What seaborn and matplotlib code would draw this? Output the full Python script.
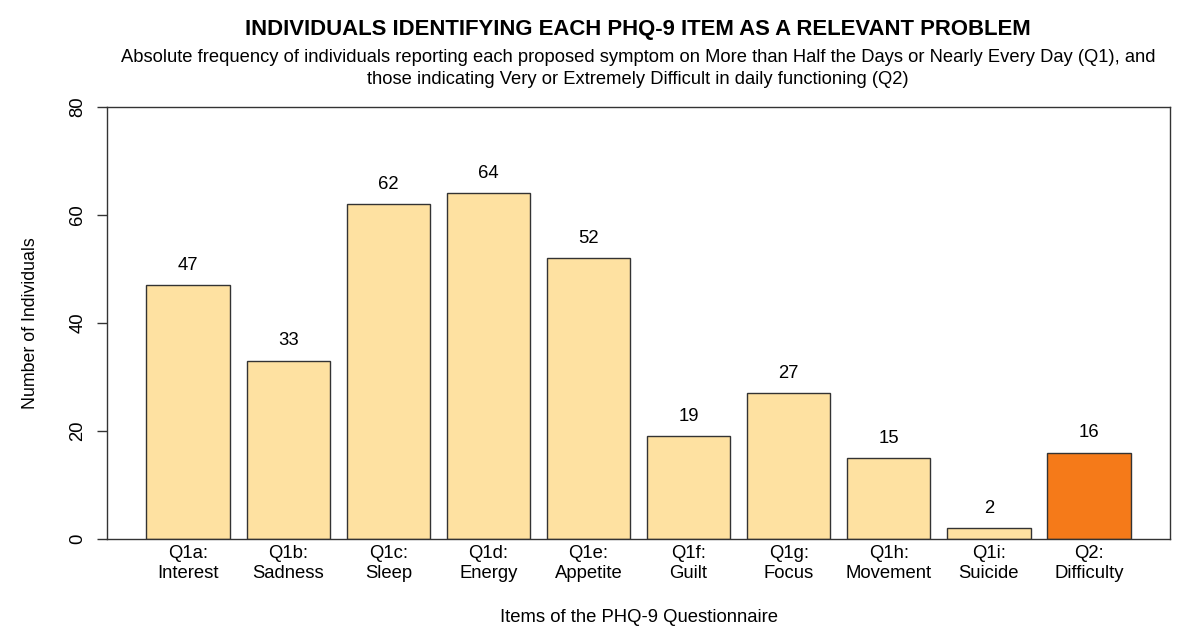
import matplotlib
matplotlib.use("Agg")
import matplotlib.pyplot as plt
import seaborn as sns
import pandas as pd

# --- Data ---
items = ["Q1a:\nInterest", "Q1b:\nSadness", "Q1c:\nSleep", "Q1d:\nEnergy",
         "Q1e:\nAppetite", "Q1f:\nGuilt", "Q1g:\nFocus", "Q1h:\nMovement",
         "Q1i:\nSuicide", "Q2:\nDifficulty"]
counts = [47, 33, 62, 64, 52, 19, 27, 15, 2, 16]
groups = ["Q1"] * 9 + ["Q2"]

# --- Style ---
sns.set_theme(style="white")
plt.rcParams["font.family"] = ["Liberation Sans", "DejaVu Sans"]
plt.rcParams["text.color"] = "black"
plt.rcParams["axes.labelcolor"] = "black"
plt.rcParams["xtick.color"] = "black"
plt.rcParams["ytick.color"] = "black"

PALE = "#FEE1A1"
ORANGE = "#F57A19"
FS = 13.3

df = pd.DataFrame({"item": items, "count": counts, "group": groups})

fig = plt.figure(figsize=(11.79, 6.26), dpi=100)
ax = fig.add_axes([0.0908, 0.1390, 0.9016, 0.6901])

sns.barplot(data=df, x="item", y="count", hue="group",
            palette={"Q1": PALE, "Q2": ORANGE}, dodge=False, legend=False,
            saturation=1, width=1 / 1.2, edgecolor="#333333", linewidth=1.0, ax=ax)

for i, v in enumerate(counts):
    ax.text(i, v + 3.7, str(v), ha="center", va="center", fontsize=FS, color="black")

ax.set_ylim(0, 80)
ax.set_xlim(-0.81, 9.81)
ax.set_yticks([0, 20, 40, 60, 80])
ax.set_yticklabels(["0", "20", "40", "60", "80"], rotation=90, va="center", fontsize=FS)
ax.tick_params(axis="y", direction="out", length=7, width=1, color="#333333", pad=8, left=True)
ax.tick_params(axis="x", length=0, labelsize=FS, pad=4)
for lbl in ax.get_xticklabels():
    lbl.set_linespacing(1.3)
for s in ax.spines.values():
    s.set_color("#333333")
    s.set_linewidth(1.0)

ax.set_xlabel("Items of the PHQ-9 Questionnaire", fontsize=FS, labelpad=19)
ax.set_ylabel("Number of Individuals", fontsize=12.8, labelpad=22)

# titles are centred over the plot region, as in the original
cx = 638 / 1179
fig.text(cx, 1 - 30 / 626, "INDIVIDUALS IDENTIFYING EACH PHQ-9 ITEM AS A RELEVANT PROBLEM",
         ha="center", va="center", fontsize=15.9, fontweight="bold")
fig.text(cx, 1 - 68.5 / 626,
         "Absolute frequency of individuals reporting each proposed symptom on More than Half the Days or Nearly Every Day (Q1), and\n"
         "those indicating Very or Extremely Difficult in daily functioning (Q2)",
         ha="center", va="center", fontsize=13.25, linespacing=1.45)

fig.savefig("out.png", dpi=100)
